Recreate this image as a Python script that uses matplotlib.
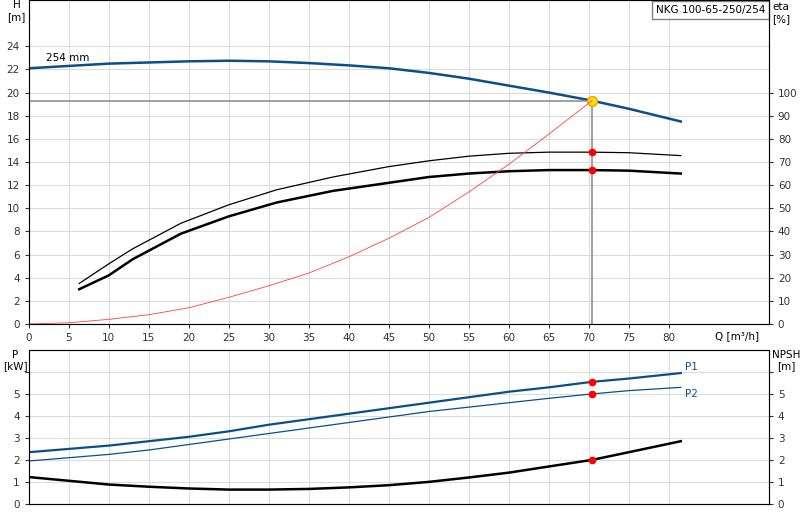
import matplotlib
matplotlib.use("Agg")
import matplotlib.pyplot as plt

q_h = [0, 5, 10, 15, 20, 25, 30, 35, 40, 45, 50, 55, 60, 65, 70.4, 75, 81.5]
head = [22.1, 22.3, 22.5, 22.6, 22.7, 22.75, 22.7, 22.55, 22.35, 22.1, 21.7, 21.2, 20.6, 20.0, 19.3, 18.6, 17.5]
q_eta = [0, 5, 10, 15, 20, 25, 30, 35, 40, 45, 50, 55, 60, 65, 70.4]
eta_red = [0, 0.5, 2, 4, 7, 11.5, 16.5, 22, 29, 37, 46, 57, 69, 82, 96.5]
q_b = [6.3, 10, 13, 19, 25, 31, 38, 45, 50, 55, 60, 65, 70.4, 75, 81.5]
eta_thin = [3.5, 5.2, 6.5, 8.7, 10.3, 11.6, 12.7, 13.6, 14.1, 14.5, 14.75, 14.85, 14.85, 14.8, 14.55]
eta_thick = [3.0, 4.2, 5.6, 7.8, 9.3, 10.5, 11.5, 12.2, 12.7, 13.0, 13.2, 13.3, 13.3, 13.25, 13.0]
q_p = [0, 5, 10, 15, 20, 25, 30, 35, 40, 45, 50, 55, 60, 65, 70.4, 75, 81.5]
p1 = [2.35, 2.5, 2.65, 2.85, 3.05, 3.3, 3.6, 3.85, 4.1, 4.35, 4.6, 4.85, 5.1, 5.3, 5.55, 5.7, 5.95]
p2 = [1.95, 2.1, 2.25, 2.45, 2.7, 2.95, 3.2, 3.45, 3.7, 3.95, 4.2, 4.4, 4.6, 4.8, 5.0, 5.15, 5.3]
npsh = [1.22, 1.05, 0.88, 0.78, 0.7, 0.65, 0.65, 0.68, 0.75, 0.85, 1.0, 1.2, 1.42, 1.7, 2.0, 2.35, 2.85]
q_op = 70.4
h_op = 19.3

blue = "#0b4f8a"
grid_c = "#dcdcdc"
fs = 7.5
fig = plt.figure(figsize=(8, 5.2), dpi=100)

def style(ax):
    ax.set_xlim(0, 92.5)
    ax.set_xticks(range(0, 85, 5))
    ax.grid(True, color=grid_c, lw=0.8)
    ax.set_axisbelow(True)
    for s in ax.spines.values():
        s.set_color("#808080")
    ax.tick_params(labelsize=fs, length=3, colors="#333333")

ax = fig.add_axes([0.036, 0.377, 0.925, 0.623])
style(ax)
ax.set_ylim(0, 28)
ax.set_yticks(range(0, 26, 2))
ax.set_xticklabels([str(v) for v in range(0, 85, 5)])
ax.plot(q_h, head, color=blue, lw=1.8)
ax.plot(q_b, eta_thin, color="black", lw=0.9)
ax.plot(q_b, eta_thick, color="black", lw=1.8)
ax.plot([0, q_op], [h_op, h_op], color="#909090", lw=1.2)
ax.plot([q_op, q_op], [0, h_op], color="#909090", lw=1.2)
ax.plot([q_op], [14.85], "o", color="red", ms=4.5)
ax.plot([q_op], [13.3], "o", color="red", ms=4.5)
ax2 = ax.twinx()
ax2.set_ylim(0, 140)
ax2.set_yticks(range(0, 110, 10))
ax2.tick_params(labelsize=fs, length=3, colors="#333333")
ax2.plot(q_eta, eta_red, color="#ff4040", lw=0.6)
ax.plot([q_op], [h_op], "o", color="#ffe000", mec="#f0a000", ms=7, zorder=10)
ax.text(2.2, 22.7, "254 mm", fontsize=fs)
ax.text(-1.5, 26.3, "H\n[m]", fontsize=fs, ha="center", clip_on=False)
ax.text(1.005, 0.96, "eta\n[%]", fontsize=fs, transform=ax.transAxes, va="center")
ax.text(0.995, 0.985, "NKG 100-65-250/254", fontsize=fs, transform=ax.transAxes, ha="right", va="top",
        bbox=dict(boxstyle="square,pad=0.4", fc="white", ec="#808080"))
ax.text(88.5, -0.6, "Q [m³/h]", fontsize=fs, ha="center", va="top", clip_on=False)

bx = fig.add_axes([0.036, 0.031, 0.925, 0.296])
style(bx)
bx.set_ylim(0, 7)
bx.set_yticks(range(0, 7))
bx.set_yticklabels(["0", "1", "2", "3", "4", "5", ""])
bx.set_xticklabels([])
bx.tick_params(axis="x", length=0)
bx.plot(q_p, p1, color=blue, lw=1.6)
bx.plot(q_p, p2, color=blue, lw=0.9)
bx.plot(q_p, npsh, color="black", lw=1.8)
for v in (5.55, 5.0, 2.0):
    bx.plot([q_op], [v], "o", color="red", ms=4.5)
bx.text(82, 6.1, "P1", color=blue, fontsize=fs)
bx.text(82, 4.85, "P2", color=blue, fontsize=fs)
bx2 = bx.twinx()
bx2.set_ylim(0, 7)
bx2.set_yticks(range(0, 7))
bx2.set_yticklabels(["0", "1", "2", "3", "4", "5", ""])
bx2.tick_params(labelsize=fs, length=3, colors="#333333")
bx.text(-0.018, 1.0, "P\n[kW]", fontsize=fs, transform=bx.transAxes, ha="center", va="top")
bx.text(1.023, 1.0, "NPSH\n[m]", fontsize=fs, transform=bx.transAxes, ha="center", va="top")

fig.savefig("out.png", dpi=100)
